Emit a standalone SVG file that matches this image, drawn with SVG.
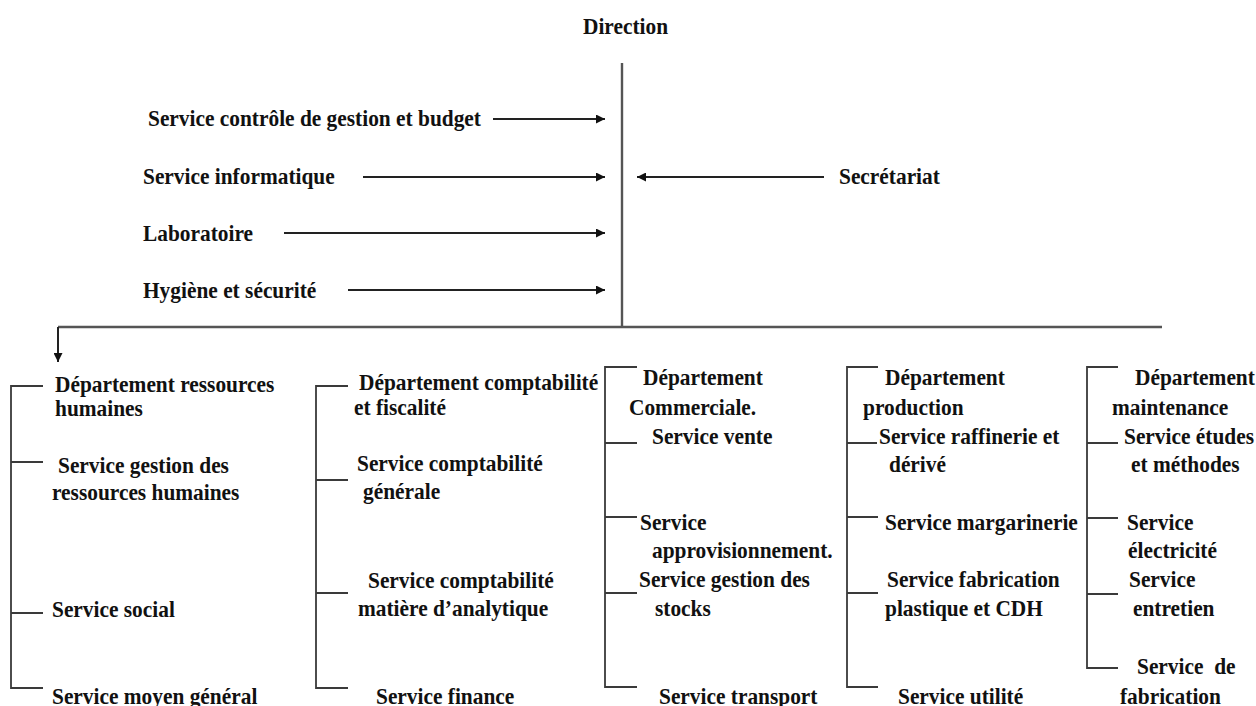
<svg xmlns="http://www.w3.org/2000/svg" width="1256" height="706" viewBox="0 0 1256 706">
<style>
text{font-family:"Liberation Serif","Times New Roman",serif;font-weight:bold;font-size:23.5px;fill:#111}
.ln{stroke:#3a3a3a;stroke-width:1.8;fill:none}
.main{stroke:#555;stroke-width:2.4;fill:none}
.ar{stroke:#222;stroke-width:2;fill:none;marker-end:url(#ah)}
</style>
<defs>
<marker id="ah" viewBox="0 0 10 10" refX="10" refY="5" markerWidth="11" markerHeight="9" markerUnits="userSpaceOnUse" orient="auto"><path d="M0,0 L10,5 L0,10 z" fill="#111"/></marker>
</defs>
<rect width="1256" height="706" fill="#fff"/>
<g id="connectors">
<line class="main" x1="622" y1="63" x2="622" y2="327"/>
<line class="main" x1="58" y1="327" x2="1162" y2="327"/>
<path class="ar" d="M58,327 V362"/>
<line class="ar" x1="493" y1="119" x2="605" y2="119"/>
<line class="ar" x1="363" y1="177" x2="605" y2="177"/>
<line class="ar" x1="284" y1="233" x2="605" y2="233"/>
<line class="ar" x1="348" y1="290" x2="605" y2="290"/>
<line class="ar" x1="824" y1="177" x2="637" y2="177"/>
<path class="ln" d="M43,386 H11 V688 H43 M11,462 H43 M11,613 H43"/>
<path class="ln" d="M348,386 H316 V688 H348 M316,480 H348 M316,593 H348"/>
<path class="ln" d="M637,367 H605 V687 H637 M605,443 H637 M605,517 H637 M605,593 H637"/>
<path class="ln" d="M878,367 H847 V687 H878 M847,443 H877 M847,517 H878 M847,593 H878"/>
<path class="ln" d="M1118,367 H1087 V668 H1118 M1087,443 H1118 M1087,518 H1118 M1087,594 H1118"/>
</g>
<g id="direction"><text transform="matrix(.91 0 0 1 583 34)">Direction</text></g>
<g id="controle"><text transform="matrix(.91 0 0 1 148 126)">Service contrôle de gestion et budget</text></g>
<g id="informatique"><text transform="matrix(.91 0 0 1 143 184)">Service informatique</text></g>
<g id="laboratoire"><text transform="matrix(.91 0 0 1 143 241)">Laboratoire</text></g>
<g id="hygiene"><text transform="matrix(.91 0 0 1 143 298)">Hygiène et sécurité</text></g>
<g id="secretariat"><text transform="matrix(.91 0 0 1 839 184)">Secrétariat</text></g>
<g id="dep-rh"><text transform="matrix(.91 0 0 1 55 392)">Département ressources</text><text transform="matrix(.91 0 0 1 55 416)">humaines</text></g>
<g id="srv-grh"><text transform="matrix(.91 0 0 1 58 473)">Service gestion des</text><text transform="matrix(.91 0 0 1 52 500)">ressources humaines</text></g>
<g id="srv-social"><text transform="matrix(.91 0 0 1 52 617)">Service social</text></g>
<g id="srv-moyen"><text transform="matrix(.91 0 0 1 52 704)">Service moyen général</text></g>
<g id="dep-compta"><text transform="matrix(.91 0 0 1 359 390)">Département comptabilité</text><text transform="matrix(.91 0 0 1 354 415)">et fiscalité</text></g>
<g id="srv-cg"><text transform="matrix(.91 0 0 1 357 471)">Service comptabilité</text><text transform="matrix(.91 0 0 1 363 499)">générale</text></g>
<g id="srv-cma"><text transform="matrix(.91 0 0 1 368 588)">Service comptabilité</text><text transform="matrix(.91 0 0 1 358 616)">matière d’analytique</text></g>
<g id="srv-finance"><text transform="matrix(.91 0 0 1 376 704)">Service finance</text></g>
<g id="dep-com"><text transform="matrix(.91 0 0 1 643 385)">Département</text><text transform="matrix(.91 0 0 1 629 415)">Commerciale.</text></g>
<g id="srv-vente"><text transform="matrix(.91 0 0 1 652 444)">Service vente</text></g>
<g id="srv-appro"><text transform="matrix(.91 0 0 1 640 530)">Service</text><text transform="matrix(.91 0 0 1 652 558)">approvisionnement.</text></g>
<g id="srv-stocks"><text transform="matrix(.91 0 0 1 639 587)">Service gestion des</text><text transform="matrix(.91 0 0 1 655 616)">stocks</text></g>
<g id="srv-transport"><text transform="matrix(.91 0 0 1 659 704)">Service transport</text></g>
<g id="dep-prod"><text transform="matrix(.91 0 0 1 885 385)">Département</text><text transform="matrix(.91 0 0 1 863 415)">production</text></g>
<g id="srv-raff"><text transform="matrix(.91 0 0 1 879 444)">Service raffinerie et</text><text transform="matrix(.91 0 0 1 889 472)">dérivé</text></g>
<g id="srv-marg"><text transform="matrix(.91 0 0 1 885 530)">Service margarinerie</text></g>
<g id="srv-fab"><text transform="matrix(.91 0 0 1 887 587)">Service fabrication</text><text transform="matrix(.91 0 0 1 885 616)">plastique et CDH</text></g>
<g id="srv-util"><text transform="matrix(.91 0 0 1 898 704)">Service utilité</text></g>
<g id="dep-maint"><text transform="matrix(.91 0 0 1 1135 385)">Département</text><text transform="matrix(.91 0 0 1 1112 415)">maintenance</text></g>
<g id="srv-etudes"><text transform="matrix(.91 0 0 1 1124 444)">Service études</text><text transform="matrix(.91 0 0 1 1131 472)">et méthodes</text></g>
<g id="srv-elec"><text transform="matrix(.91 0 0 1 1127 530)">Service</text><text transform="matrix(.91 0 0 1 1128 558)">électricité</text></g>
<g id="srv-entretien"><text transform="matrix(.91 0 0 1 1129 587)">Service</text><text transform="matrix(.91 0 0 1 1133 616)">entretien</text></g>
<g id="srv-fabm"><text transform="matrix(.91 0 0 1 1137 674)" style="white-space:pre">Service  de</text><text transform="matrix(.91 0 0 1 1120 704)">fabrication</text></g>
</svg>
